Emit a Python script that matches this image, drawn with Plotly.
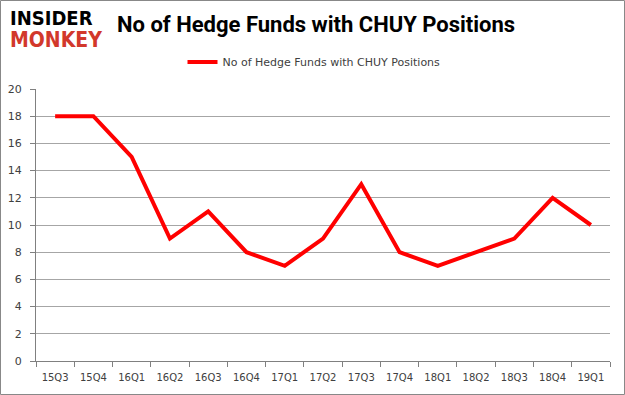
import plotly.graph_objects as go

quarters = ["15Q3", "15Q4", "16Q1", "16Q2", "16Q3", "16Q4", "17Q1", "17Q2",
            "17Q3", "17Q4", "18Q1", "18Q2", "18Q3", "18Q4", "19Q1"]
funds = [18, 18, 15, 9, 11, 8, 7, 9, 13, 8, 7, 8, 9, 12, 10]
series_name = "No of Hedge Funds with CHUY Positions"
title_text = "No of Hedge Funds with CHUY Positions"
y_ticks = [0, 2, 4, 6, 8, 10, 12, 14, 16, 18, 20]

W, H = 625, 395
L, R, T, B = 36, 15, 89, 34
pw, ph = W - L - R, H - T - B

fig = go.Figure()
fig.add_trace(go.Scatter(
    x=quarters, y=funds, mode="lines", name=series_name,
    line=dict(color="#ff0000", width=4),
))

grid = "#a6a6a6"
fig.update_layout(
    width=W, height=H,
    margin=dict(l=L, r=R, t=T, b=B, autoexpand=False),
    paper_bgcolor="white", plot_bgcolor="white",
    showlegend=True,
    legend=dict(orientation="h", x=(314 - L) / pw, xanchor="center", y=1 + (T - 62) / ph,
                yanchor="middle", font=dict(family="DejaVu Sans", size=11, color="#404040"),
                bgcolor="rgba(0,0,0,0)", itemwidth=30),
    xaxis=dict(
        type="category", range=[-0.5, len(quarters) - 0.5],
        tickson="boundaries", ticks="outside", ticklen=5,
        tickcolor="#808080", showline=True, linecolor="#808080", linewidth=1,
        showgrid=False, tickfont=dict(family="DejaVu Sans", size=10, color="#404040"),
        ticklabelstandoff=7, fixedrange=True, automargin=False,
    ),
    yaxis=dict(
        range=[0, 20], tickvals=y_ticks, ticks="outside", ticklen=5,
        tickcolor="#808080", showline=True, linecolor="#808080", linewidth=1,
        showgrid=True, gridcolor=grid, gridwidth=1, zeroline=False,
        tickfont=dict(family="DejaVu Sans", size=11, color="#404040"),
        ticklabelstandoff=6, fixedrange=True, automargin=False,
    ),
)

# Title
fig.add_annotation(
    text="<b>" + title_text + "</b>", xref="paper", yref="paper",
    x=(115 - L) / pw, y=1 + (T - 25) / ph, xanchor="left", yanchor="middle",
    showarrow=False, font=dict(family="Liberation Sans Narrow, Roboto, sans-serif", size=22, color="black"),
)
# Logo
fig.add_annotation(
    text="<b>INSIDER</b>", xref="paper", yref="paper",
    x=(8 - L) / pw, y=1 + (T - 18) / ph, xanchor="left", yanchor="middle",
    showarrow=False, font=dict(family="DejaVu Sans Condensed", size=20, color="black"),
)
fig.add_annotation(
    text="<b>MONKEY</b>", xref="paper", yref="paper",
    x=(8 - L) / pw, y=1 + (T - 40) / ph, xanchor="left", yanchor="middle",
    showarrow=False, font=dict(family="DejaVu Sans Condensed", size=21, color="#d2382b"),
)
# Outer border
fig.add_shape(
    type="rect", xref="paper", yref="paper",
    x0=(0.5 - L) / pw, x1=(W - 0.5 - L) / pw,
    y0=-(B - 0.5) / ph, y1=1 + (T - 0.5) / ph,
    line=dict(color="#888888", width=1), layer="below",
)

fig.write_html(
    "out.html",
    config={"displayModeBar": False},
    post_script="document.body.style.margin='0';document.body.style.overflow='hidden';",
)
